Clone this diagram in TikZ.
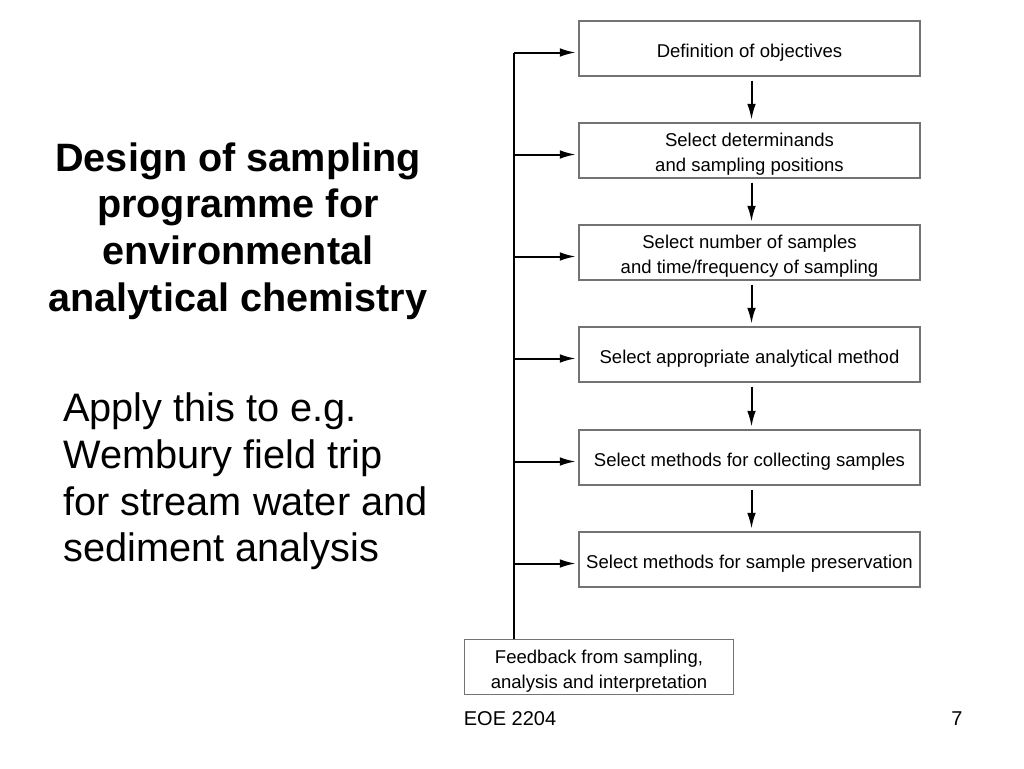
\documentclass[tikz,border=0pt]{standalone}
\usepackage{fontspec}
\setmainfont{Liberation Sans}
\usetikzlibrary{arrows.meta}
\begin{document}
\begin{tikzpicture}[x=0.75pt,y=-0.75pt,
  stepbox/.style={draw=black!55,line width=0.8pt,minimum width=255.75pt,minimum height=41.25pt,inner sep=0pt},
  fbbox/.style={draw=black!55,line width=0.8pt,minimum width=202pt,minimum height=41pt,inner sep=0pt},
  boxtext/.style={inner sep=0pt,align=center,font=\fontsize{13.9pt}{18.75pt}\selectfont},
  arr/.style={line width=1.5pt,-{Latex[length=12pt,width=6.5pt]}},
  bus/.style={line width=1.5pt}]
\useasboundingbox (0,0) rectangle (1024,768);
\fill[white] (0,0) rectangle (1024,768);

\node[inner sep=0pt,align=center,font=\fontsize{29.7pt}{35pt}\selectfont\bfseries] (title) at (238,231)
  {Design of sampling\\programme for\\environmental\\analytical chemistry};
\node[inner sep=0pt,align=left,anchor=west,font=\fontsize{29.8pt}{35pt}\selectfont] (apply) at (63,481.5)
  {Apply this to e.g.\\Wembury field trip\\for stream water and\\sediment analysis};

\node[stepbox] (b1) at (749.5,48.5) {};
\node[stepbox] (b2) at (749.5,150.5) {};
\node[stepbox] (b3) at (749.5,252.5) {};
\node[stepbox] (b4) at (749.5,354.5) {};
\node[stepbox] (b5) at (749.5,457.5) {};
\node[stepbox] (b6) at (749.5,559.5) {};
\node[fbbox] (fb) at (599,667) {};

\node[boxtext] (t1) at ([yshift=-3pt]b1.center) {Definition of objectives};
\node[boxtext] (t2) at ([yshift=-3pt]b2.center) {Select determinands\\and sampling positions};
\node[boxtext] (t3) at ([yshift=-3pt]b3.center) {Select number of samples\\and time/frequency of sampling};
\node[boxtext] (t4) at ([yshift=-3pt]b4.center) {Select appropriate analytical method};
\node[boxtext] (t5) at ([yshift=-3pt]b5.center) {Select methods for collecting samples};
\node[boxtext] (t6) at ([yshift=-3pt]b6.center) {Select methods for sample preservation};
\node[boxtext] (tf) at ([yshift=-3.5pt]fb.center) {Feedback from sampling,\\analysis and interpretation};

\node[inner sep=0pt,font=\fontsize{15pt}{18pt}\selectfont] (foot) at (510,719) {EOE 2204};
\node[inner sep=0pt,font=\fontsize{15pt}{18pt}\selectfont] (page) at (957,719) {7};

\foreach \a/\b in {b1/b2,b2/b3,b3/b4,b4/b5,b5/b6}{
  \draw[arr,shorten <=3pt,shorten >=2pt] ([xshift=1.5pt]\a.south) -- ([xshift=1.5pt]\b.north);
}
\coordinate (busx) at (513.5,0);
\draw[bus] (fb.north -| busx) -- ([yshift=-3pt]b1.west -| busx);
\foreach \b in {b1,b2,b3,b4,b5,b6}{
  \draw[arr,shorten >=2pt] ([yshift=-3pt]\b.west -| busx) -- ([yshift=-3pt]\b.west);
}
\end{tikzpicture}
\end{document}
